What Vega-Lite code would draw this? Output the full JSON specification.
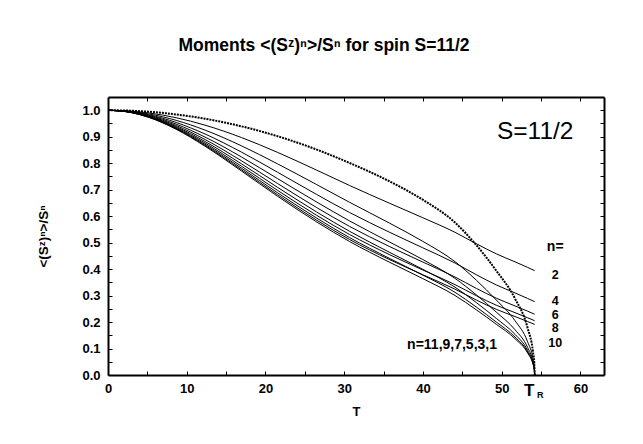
{
"$schema": "https://vega.github.io/schema/vega-lite/v6.json",
"width": 496, "height": 278,
"autosize": {"type": "none"},
"padding": {"left": 108, "top": 97, "right": 39, "bottom": 69},
"background": "white",
"title": {"text": "Moments <(Sᶻ)ⁿ>/Sⁿ for spin S=11/2", "font": "Liberation Sans", "fontSize": 17.5, "fontWeight": "bold", "color": "black", "anchor": "middle", "dx": -32, "offset": 42},
"datasets": {
"curves": [
{"T":0,"n":1,"v":1},{"T":2.95,"n":1,"v":0.99816},{"T":5.16,"n":1,"v":0.99437},{"T":8.65,"n":1,"v":0.98419},{"T":12.32,"n":1,"v":0.96791},{"T":16.93,"n":1,"v":0.9394},{"T":21.51,"n":1,"v":0.9021},{"T":26.51,"n":1,"v":0.85139},{"T":30.69,"n":1,"v":0.80078},{"T":35.71,"n":1,"v":0.73204},{"T":39.98,"n":1,"v":0.66207},{"T":44.08,"n":1,"v":0.57565},{"T":46.79,"n":1,"v":0.49039},{"T":49.32,"n":1,"v":0.3939},{"T":51.7,"n":1,"v":0.28847},{"T":53.3,"n":1,"v":0.1777},{"T":53.98,"n":1,"v":0.08809},{"T":54.145,"n":1,"v":0.04405},{"T":54.2,"n":1,"v":0},
{"T":0,"n":2,"v":1},{"T":2.95,"n":2,"v":0.99667},{"T":5.16,"n":2,"v":0.98984},{"T":8.65,"n":2,"v":0.97175},{"T":12.32,"n":2,"v":0.94372},{"T":16.93,"n":2,"v":0.89715},{"T":21.51,"n":2,"v":0.84117},{"T":26.51,"n":2,"v":0.77371},{"T":30.69,"n":2,"v":0.71566},{"T":35.71,"n":2,"v":0.64943},{"T":39.98,"n":2,"v":0.5941},{"T":44.08,"n":2,"v":0.53888},{"T":46.79,"n":2,"v":0.49567},{"T":49.32,"n":2,"v":0.45769},{"T":51.7,"n":2,"v":0.42735},{"T":53.3,"n":2,"v":0.40642},{"T":53.98,"n":2,"v":0.39699},{"T":54.145,"n":2,"v":0.3947},{"T":54.2,"n":2,"v":0.39394},
{"T":0,"n":3,"v":1},{"T":2.95,"n":3,"v":0.99545},{"T":5.16,"n":3,"v":0.98617},{"T":8.65,"n":3,"v":0.96187},{"T":12.32,"n":3,"v":0.92504},{"T":16.93,"n":3,"v":0.86593},{"T":21.51,"n":3,"v":0.79788},{"T":26.51,"n":3,"v":0.71906},{"T":30.69,"n":3,"v":0.65222},{"T":35.71,"n":3,"v":0.57431},{"T":39.98,"n":3,"v":0.50497},{"T":44.08,"n":3,"v":0.42797},{"T":46.79,"n":3,"v":0.35794},{"T":49.32,"n":3,"v":0.28321},{"T":51.7,"n":3,"v":0.20507},{"T":53.3,"n":3,"v":0.12537},{"T":53.98,"n":3,"v":0.06195},{"T":54.145,"n":3,"v":0.03098},{"T":54.2,"n":3,"v":0},
{"T":0,"n":4,"v":1},{"T":2.95,"n":4,"v":0.99445},{"T":5.16,"n":4,"v":0.98319},{"T":8.65,"n":4,"v":0.95397},{"T":12.32,"n":4,"v":0.9104},{"T":16.93,"n":4,"v":0.84223},{"T":21.51,"n":4,"v":0.76629},{"T":26.51,"n":4,"v":0.68178},{"T":30.69,"n":4,"v":0.61369},{"T":35.71,"n":4,"v":0.53986},{"T":39.98,"n":4,"v":0.48053},{"T":44.08,"n":4,"v":0.42289},{"T":46.79,"n":4,"v":0.37865},{"T":49.32,"n":4,"v":0.34028},{"T":51.7,"n":4,"v":0.30992},{"T":53.3,"n":4,"v":0.2891},{"T":53.98,"n":4,"v":0.27975},{"T":54.145,"n":4,"v":0.27749},{"T":54.2,"n":4,"v":0.27674},
{"T":0,"n":5,"v":1},{"T":2.95,"n":5,"v":0.99364},{"T":5.16,"n":5,"v":0.98076},{"T":8.65,"n":5,"v":0.94761},{"T":12.32,"n":5,"v":0.8988},{"T":16.93,"n":5,"v":0.82387},{"T":21.51,"n":5,"v":0.74225},{"T":26.51,"n":5,"v":0.6532},{"T":30.69,"n":5,"v":0.58185},{"T":35.71,"n":5,"v":0.50297},{"T":39.98,"n":5,"v":0.43612},{"T":44.08,"n":5,"v":0.36494},{"T":46.79,"n":5,"v":0.30242},{"T":49.32,"n":5,"v":0.23745},{"T":51.7,"n":5,"v":0.17094},{"T":53.3,"n":5,"v":0.1041},{"T":53.98,"n":5,"v":0.05135},{"T":54.145,"n":5,"v":0.02568},{"T":54.2,"n":5,"v":0},
{"T":0,"n":6,"v":1},{"T":2.95,"n":6,"v":0.99298},{"T":5.16,"n":6,"v":0.97879},{"T":8.65,"n":6,"v":0.94247},{"T":12.32,"n":6,"v":0.88954},{"T":16.93,"n":6,"v":0.80947},{"T":21.51,"n":6,"v":0.72381},{"T":26.51,"n":6,"v":0.63232},{"T":30.69,"n":6,"v":0.5611},{"T":35.71,"n":6,"v":0.48591},{"T":39.98,"n":6,"v":0.42673},{"T":44.08,"n":6,"v":0.3701},{"T":46.79,"n":6,"v":0.32711},{"T":49.32,"n":6,"v":0.29009},{"T":51.7,"n":6,"v":0.26096},{"T":53.3,"n":6,"v":0.24106},{"T":53.98,"n":6,"v":0.23215},{"T":54.145,"n":6,"v":0.22999},{"T":54.2,"n":6,"v":0.22927},
{"T":0,"n":7,"v":1},{"T":2.95,"n":7,"v":0.99243},{"T":5.16,"n":7,"v":0.97718},{"T":8.65,"n":7,"v":0.93831},{"T":12.32,"n":7,"v":0.88211},{"T":16.93,"n":7,"v":0.79805},{"T":21.51,"n":7,"v":0.7093},{"T":26.51,"n":7,"v":0.61555},{"T":30.69,"n":7,"v":0.54261},{"T":35.71,"n":7,"v":0.46411},{"T":39.98,"n":7,"v":0.39924},{"T":44.08,"n":7,"v":0.33166},{"T":46.79,"n":7,"v":0.27339},{"T":49.32,"n":7,"v":0.21372},{"T":51.7,"n":7,"v":0.15333},{"T":53.3,"n":7,"v":0.09317},{"T":53.98,"n":7,"v":0.04592},{"T":54.145,"n":7,"v":0.02296},{"T":54.2,"n":7,"v":0},
{"T":0,"n":8,"v":1},{"T":2.95,"n":8,"v":0.99199},{"T":5.16,"n":8,"v":0.97587},{"T":8.65,"n":8,"v":0.93494},{"T":12.32,"n":8,"v":0.87612},{"T":16.93,"n":8,"v":0.78894},{"T":21.51,"n":8,"v":0.69789},{"T":26.51,"n":8,"v":0.60297},{"T":30.69,"n":8,"v":0.53054},{"T":35.71,"n":8,"v":0.45528},{"T":39.98,"n":8,"v":0.39677},{"T":44.08,"n":8,"v":0.34129},{"T":46.79,"n":8,"v":0.29944},{"T":49.32,"n":8,"v":0.26357},{"T":51.7,"n":8,"v":0.23545},{"T":53.3,"n":8,"v":0.21627},{"T":53.98,"n":8,"v":0.20769},{"T":54.145,"n":8,"v":0.20562},{"T":54.2,"n":8,"v":0.20493},
{"T":0,"n":9,"v":1},{"T":2.95,"n":9,"v":0.99163},{"T":5.16,"n":9,"v":0.97479},{"T":8.65,"n":9,"v":0.93219},{"T":12.32,"n":9,"v":0.87128},{"T":16.93,"n":9,"v":0.78162},{"T":21.51,"n":9,"v":0.68875},{"T":26.51,"n":9,"v":0.59253},{"T":30.69,"n":9,"v":0.51896},{"T":35.71,"n":9,"v":0.44101},{"T":39.98,"n":9,"v":0.37752},{"T":44.08,"n":9,"v":0.31222},{"T":46.79,"n":9,"v":0.25652},{"T":49.32,"n":9,"v":0.19999},{"T":51.7,"n":9,"v":0.14319},{"T":53.3,"n":9,"v":0.08689},{"T":53.98,"n":9,"v":0.04279},{"T":54.145,"n":9,"v":0.0214},{"T":54.2,"n":9,"v":0},
{"T":0,"n":10,"v":1},{"T":2.95,"n":10,"v":0.99133},{"T":5.16,"n":10,"v":0.97392},{"T":8.65,"n":10,"v":0.92996},{"T":12.32,"n":10,"v":0.86735},{"T":16.93,"n":10,"v":0.77572},{"T":21.51,"n":10,"v":0.68147},{"T":26.51,"n":10,"v":0.58466},{"T":30.69,"n":10,"v":0.5117},{"T":35.71,"n":10,"v":0.43664},{"T":39.98,"n":10,"v":0.37873},{"T":44.08,"n":10,"v":0.32414},{"T":46.79,"n":10,"v":0.28312},{"T":49.32,"n":10,"v":0.24808},{"T":51.7,"n":10,"v":0.22066},{"T":53.3,"n":10,"v":0.20199},{"T":53.98,"n":10,"v":0.19364},{"T":54.145,"n":10,"v":0.19162},{"T":54.2,"n":10,"v":0.19095},
{"T":0,"n":11,"v":1},{"T":2.95,"n":11,"v":0.9911},{"T":5.16,"n":11,"v":0.97321},{"T":8.65,"n":11,"v":0.92814},{"T":12.32,"n":11,"v":0.86416},{"T":16.93,"n":11,"v":0.77095},{"T":21.51,"n":11,"v":0.67557},{"T":26.51,"n":11,"v":0.57794},{"T":30.69,"n":11,"v":0.50409},{"T":35.71,"n":11,"v":0.42659},{"T":39.98,"n":11,"v":0.36405},{"T":44.08,"n":11,"v":0.30022},{"T":46.79,"n":11,"v":0.24615},{"T":49.32,"n":11,"v":0.19157},{"T":51.7,"n":11,"v":0.13698},{"T":53.3,"n":11,"v":0.08305},{"T":53.98,"n":11,"v":0.04088},{"T":54.145,"n":11,"v":0.02044},{"T":54.2,"n":11,"v":0}
],
"notes": [
{"T":54.26,"v":0.917,"label":"S=11/2","kind":"big"},
{"T":56.8,"v":0.484,"label":"n=","kind":"mid"},
{"T":56.8,"v":0.377,"label":"2","kind":"small"},
{"T":56.8,"v":0.278,"label":"4","kind":"small"},
{"T":56.8,"v":0.227,"label":"6","kind":"small"},
{"T":56.8,"v":0.176,"label":"8","kind":"small"},
{"T":56.8,"v":0.122,"label":"10","kind":"small"},
{"T":43.7,"v":0.113,"label":"n=11,9,7,5,3,1","kind":"mid"},
{"T":53.5,"v":-0.059,"label":"T","kind":"tr"},
{"T":54.9,"v":-0.074,"label":"R","kind":"sub"}
]
},
"layer": [
{
"data": {"name": "curves"},
"transform": [{"filter": "datum.n != 1"}],
"mark": {"type": "line", "color": "black", "strokeWidth": 1, "interpolate": "monotone"},
"encoding": {
"x": {"field": "T", "type": "quantitative", "scale": {"domain": [0, 63], "nice": false, "zero": false},
"axis": {"orient": "bottom", "values": [0,5,10,15,20,25,30,35,40,45,50,55,60], "labelExpr": "datum.value % 10 === 0 ? datum.label : ''", "tickSize": -4, "labelPadding": 11, "title": "T", "titleFontSize": 13, "titleX": 248, "titleY": 36, "titleBaseline": "middle"}},
"y": {"field": "v", "type": "quantitative", "scale": {"domain": [0, 1.05], "nice": false, "zero": false},
"axis": {"orient": "left", "values": [0,0.05,0.1,0.15,0.2,0.25,0.3,0.35,0.4,0.45,0.5,0.55,0.6,0.65,0.7,0.75,0.8,0.85,0.9,0.95,1.0], "labelExpr": "round(datum.value*20) % 2 === 0 ? format(datum.value, '.1f') : ''", "tickSize": -4, "labelPadding": 12, "title": "<(Sᶻ)ⁿ>/Sⁿ", "titleFontSize": 13.5, "titleX": -65, "titleY": 139, "titleAngle": -90, "titleAlign": "center", "titleBaseline": "middle"}},
"detail": {"field": "n", "type": "nominal"}
}
},
{
"data": {"name": "curves"},
"transform": [{"filter": "datum.n == 1"}],
"mark": {"type": "line", "color": "black", "strokeWidth": 2, "strokeDash": [2, 1], "interpolate": "monotone"},
"encoding": {
"x": {"field": "T", "type": "quantitative", "scale": {"domain": [0, 63], "nice": false, "zero": false},
"axis": {"orient": "top", "values": [5,10,15,20,25,30,35,40,45,50,55,60], "labels": false, "tickSize": -4, "title": null}},
"y": {"field": "v", "type": "quantitative", "scale": {"domain": [0, 1.05], "nice": false, "zero": false},
"axis": {"orient": "right", "values": [0.05,0.1,0.15,0.2,0.25,0.3,0.35,0.4,0.45,0.5,0.55,0.6,0.65,0.7,0.75,0.8,0.85,0.9,0.95,1.0], "labels": false, "tickSize": -4, "title": null}}
}
},
{
"data": {"name": "notes"},
"transform": [{"filter": "datum.kind == 'big'"}],
"mark": {"type": "text", "color": "black", "font": "Liberation Sans", "fontSize": 24.5, "align": "center", "baseline": "middle"},
"encoding": {"x": {"field": "T", "type": "quantitative", "axis": null}, "y": {"field": "v", "type": "quantitative", "axis": null}, "text": {"field": "label"}}
},
{
"data": {"name": "notes"},
"transform": [{"filter": "datum.kind == 'mid'"}],
"mark": {"type": "text", "color": "black", "font": "Liberation Sans", "fontWeight": "bold", "fontSize": 14, "align": "center", "baseline": "middle"},
"encoding": {"x": {"field": "T", "type": "quantitative", "axis": null}, "y": {"field": "v", "type": "quantitative", "axis": null}, "text": {"field": "label"}}
},
{
"data": {"name": "notes"},
"transform": [{"filter": "datum.kind == 'small'"}],
"mark": {"type": "text", "color": "black", "font": "Liberation Sans", "fontWeight": "bold", "fontSize": 12.5, "align": "center", "baseline": "middle"},
"encoding": {"x": {"field": "T", "type": "quantitative", "axis": null}, "y": {"field": "v", "type": "quantitative", "axis": null}, "text": {"field": "label"}}
},
{
"data": {"name": "notes"},
"transform": [{"filter": "datum.kind == 'tr'"}],
"mark": {"type": "text", "color": "black", "font": "Liberation Sans", "fontWeight": "bold", "fontSize": 17, "align": "center", "baseline": "middle"},
"encoding": {"x": {"field": "T", "type": "quantitative", "axis": null}, "y": {"field": "v", "type": "quantitative", "axis": null}, "text": {"field": "label"}}
},
{
"data": {"name": "notes"},
"transform": [{"filter": "datum.kind == 'sub'"}],
"mark": {"type": "text", "color": "black", "font": "Liberation Sans", "fontWeight": "bold", "fontSize": 9, "align": "center", "baseline": "middle"},
"encoding": {"x": {"field": "T", "type": "quantitative", "axis": null}, "y": {"field": "v", "type": "quantitative", "axis": null}, "text": {"field": "label"}}
}
],
"resolve": {"axis": {"x": "independent", "y": "independent"}},
"config": {
"view": {"stroke": null},
"axis": {"domainColor": "black", "domainWidth": 2, "tickColor": "black", "tickWidth": 1, "labelColor": "black", "labelFont": "Liberation Sans", "labelFontSize": 13, "labelFontWeight": "bold", "titleFont": "Liberation Sans", "titleFontWeight": "bold", "titleColor": "black", "grid": false, "labelFlush": false, "labelOverlap": false}
}
}
